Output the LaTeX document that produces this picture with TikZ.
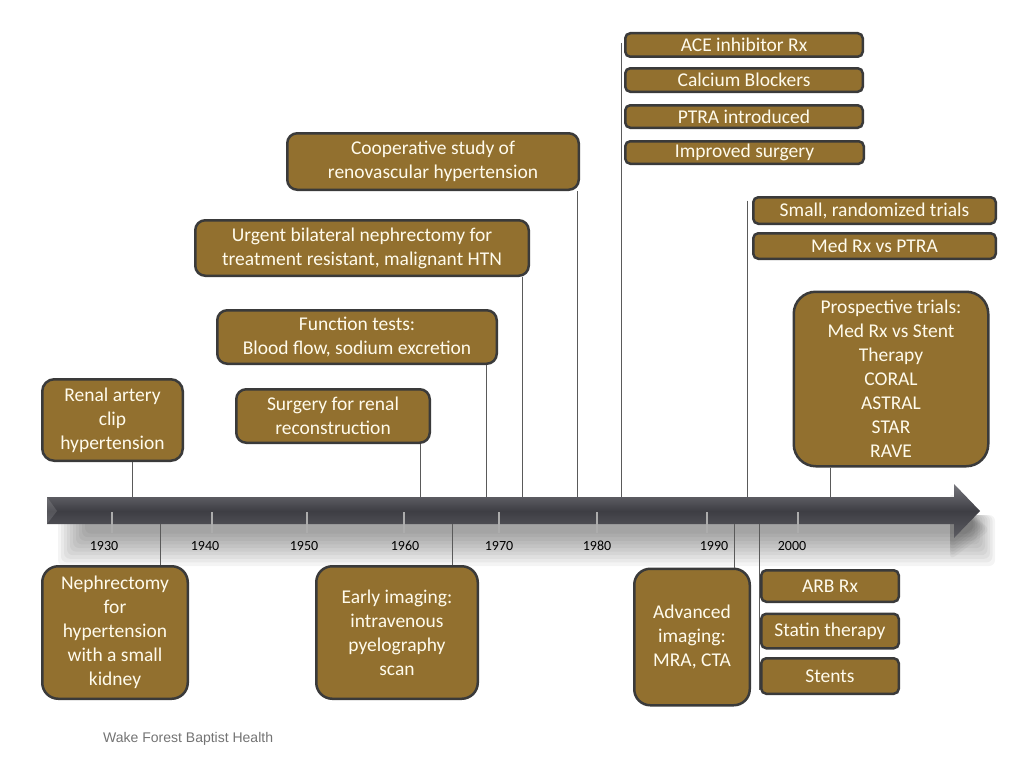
\documentclass[tikz,border=0pt]{standalone}
\usepackage{fontspec}
\setmainfont{Carlito}
\newfontfamily\footfont{Liberation Sans}
\definecolor{boxfill}{RGB}{146,112,47}
\definecolor{boxedge}{RGB}{58,58,58}
\definecolor{boxtext}{RGB}{255,251,236}
\definecolor{connc}{RGB}{90,90,90}
\definecolor{arrtop}{RGB}{118,118,124}
\definecolor{arrmid}{RGB}{62,62,68}
\definecolor{arrbot}{RGB}{92,92,98}
\begin{document}
\begin{tikzpicture}[x=1pt,y=-1pt,
  evbox/.style={draw=boxedge, line width=2.5pt, fill=boxfill, text=boxtext,
    rounded corners=14pt, align=center, inner sep=0pt,
    font=\fontsize{19.5}{24}\selectfont},
  slim/.style={evbox, rounded corners=5pt},
  conn/.style={draw=connc, line width=1pt},
  tickline/.style={draw=gray!65, line width=1.2pt},
  yr/.style={font=\fontsize{14}{16}\selectfont, text=black, inner sep=0pt},
  shadowlayer/.style={fill=black, opacity=0.045, rounded corners=6pt}]
\useasboundingbox (0,0) rectangle (1024,768);

% ---- soft shadow under the timeline arrow ----
\foreach \k in {0,...,9}{
  \fill[shadowlayer] ({58+3*\k},515) rectangle ({995-2.5*\k},{566-3.6*\k});
}
\foreach \k in {0,...,5}{
  \fill[shadowlayer] (950,{492+2*\k}) -- ({990-2.5*\k},{530-1*\k}) -- (950,{560-3*\k}) -- cycle;
}

% ---- timeline arrow ----
\shade[top color=arrtop, bottom color=arrbot, middle color=arrmid]
  (47,497) -- (954,497) -- (954,484) -- (980,511) -- (954,538) -- (954,524) -- (47,524) -- cycle;
\fill[white, opacity=0.12] (47,497) -- (57,511) -- (47,524) -- cycle;

% ---- year ticks and labels ----
\foreach \tx/\lx/\yy in {112/104/1930, 212/205/1940, 307/304/1950, 404/405/1960,
                          499/499/1970, 597/597/1980, 707/714/1990, 798/792/2000}{
  \draw[tickline] (\tx,512) -- (\tx,533);
  \node[yr] (y\yy) at (\lx,546) {\yy};
}

% ---- boxes above ----
\node[slim, minimum width=237.5pt, minimum height=23.5pt] (ace) at (744,45) {ACE inhibitor Rx};
\node[slim, minimum width=237.5pt, minimum height=23.5pt] (calc) at (744,80) {Calcium Blockers};
\node[slim, minimum width=237.5pt, minimum height=22.5pt] (ptra) at (744,116.5) {PTRA introduced};
\node[slim, minimum width=238.5pt, minimum height=22.5pt] (impr) at (744.5,152.5) {Improved surgery};
\node[evbox, rounded corners=10pt, minimum width=291.5pt, minimum height=56.5pt] (coop) at (433,161.5) {Cooperative study of\\renovascular hypertension};
\node[evbox, rounded corners=10pt, minimum width=333.5pt, minimum height=55.5pt] (urg) at (362,248) {Urgent bilateral nephrectomy for\\treatment resistant, malignant HTN};
\node[evbox, rounded corners=10pt, minimum width=279.5pt, minimum height=53.5pt] (func) at (357,337) {Function tests:\\Blood flow, sodium excretion};
\node[evbox, rounded corners=10pt, minimum width=193.5pt, minimum height=53.5pt] (surg) at (333,416) {Surgery for renal\\reconstruction};
\node[evbox, rounded corners=12pt, minimum width=140.5pt, minimum height=81.5pt] (renal) at (112.5,420) {Renal artery\\clip\\hypertension};
\node[slim, minimum width=242.5pt, minimum height=26.5pt] (small) at (874.5,210.5) {Small, randomized trials};
\node[slim, minimum width=242.5pt, minimum height=25.5pt] (medrx) at (874.5,246) {Med Rx vs PTRA};
\node[evbox, rounded corners=22pt, minimum width=194.5pt, minimum height=174.5pt] (prosp) at (891,379) {Prospective trials:\\Med Rx vs Stent\\Therapy\\CORAL\\ASTRAL\\STAR\\RAVE};

% ---- boxes below ----
\node[evbox, rounded corners=16pt, minimum width=145.5pt, minimum height=132.5pt] (neph) at (115,632.5) {Nephrectomy\\for\\hypertension\\with a small\\kidney};
\node[evbox, rounded corners=16pt, minimum width=161.5pt, minimum height=132.5pt] (early) at (397,632.5) {Early imaging:\\intravenous\\pyelography\\scan};
\node[evbox, rounded corners=16pt, minimum width=115.5pt, minimum height=136.5pt] (adv) at (692,637) {Advanced\\imaging:\\MRA, CTA};
\node[slim, minimum width=137.5pt, minimum height=31.5pt] (arb) at (830,586) {ARB Rx};
\node[slim, minimum width=137.5pt, minimum height=34.5pt] (stat) at (830,631) {Statin therapy};
\node[slim, minimum width=137.5pt, minimum height=35.5pt] (stent) at (830,676) {Stents};

% ---- connector end points on the arrow ----
\coordinate (u1) at (132,497);
\coordinate (u2) at (420,497);
\coordinate (u3) at (486,497);
\coordinate (u4) at (522,497);
\coordinate (u5) at (577,497);
\coordinate (u6) at (621,497);
\coordinate (u7) at (747,497);
\coordinate (u8) at (830,497);
\coordinate (d1) at (160,524);
\coordinate (d2) at (452,524);
\coordinate (d3) at (734,524);
\coordinate (d4) at (759,524);

% ---- connectors ----
\draw[conn] (renal.south -| u1) -- (u1);
\draw[conn] (surg.south -| u2) -- (u2);
\draw[conn] (func.south -| u3) -- (u3);
\draw[conn] (urg.south -| u4) -- (u4);
\draw[conn] (coop.south -| u5) -- (u5);
\draw[conn] ([yshift=2pt]ace.west -| u6) -- (u6);
\draw[conn] ([yshift=10pt]small.west -| u7) -- (u7);
\draw[conn] (prosp.south -| u8) -- (u8);
\draw[conn] (d1) -- (neph.north -| d1);
\draw[conn] (d2) -- (early.north -| d2);
\draw[conn] (d3) -- (adv.north -| d3);
\draw[conn] (d4) -- ([yshift=-14pt]stent.west -| d4);

% ---- footer ----
\node[font=\footfont\fontsize{14}{16}\selectfont, text=gray!90!black, anchor=west, inner sep=0pt] (foot) at (103,739) {Wake Forest Baptist Health};
\end{tikzpicture}
\end{document}
